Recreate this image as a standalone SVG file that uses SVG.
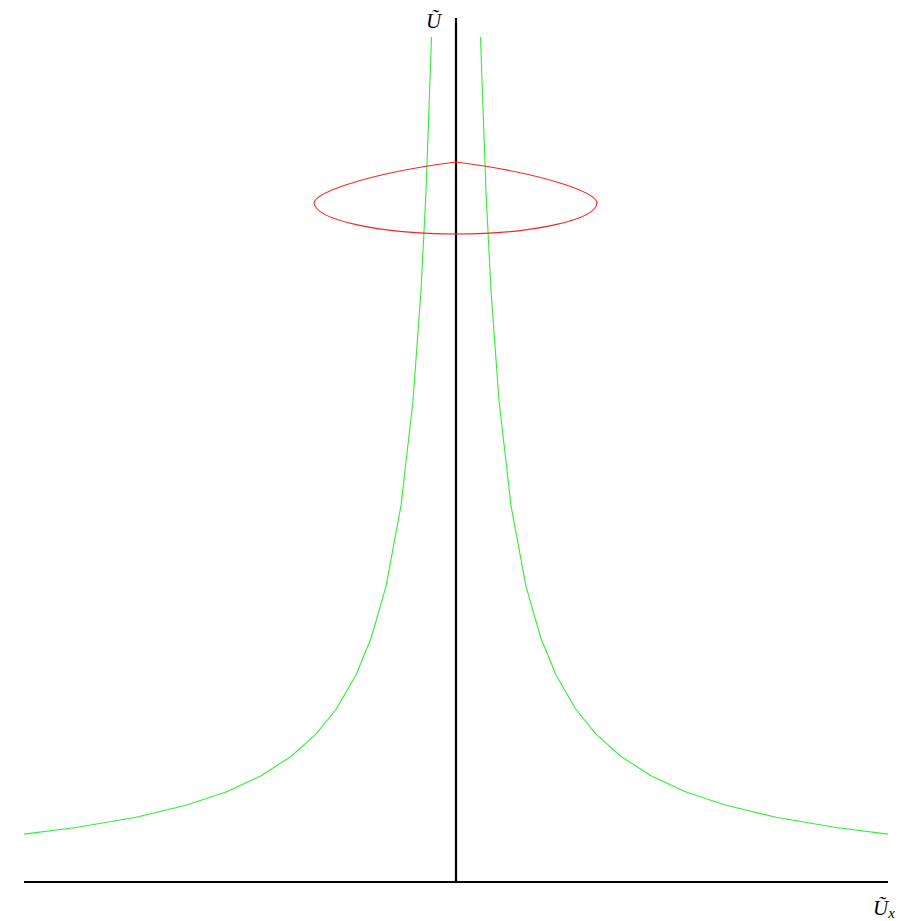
<svg xmlns="http://www.w3.org/2000/svg" width="923" height="921" viewBox="0 0 923 921">
<style>
.axis{stroke:#000;stroke-width:2.2;fill:none}
.curve{stroke:#33ee33;stroke-width:1.1;fill:none;stroke-linejoin:round}
.ring{stroke:#ff2020;stroke-width:1.1;fill:none}
.lbl{font-family:"Liberation Serif","DejaVu Serif",serif;font-style:italic;fill:#000}
</style>
<rect width="923" height="921" fill="#fff"/>
<g id="axes">
<line class="axis" x1="456" y1="18" x2="456" y2="883"/>
<line class="axis" x1="24" y1="882" x2="888" y2="882"/>
</g>
<g id="curve-left">
<polyline class="curve" points="431.5,37 426,192 421,290.6 413,400.6 401,505.6 386,586.3 371,638.5 356,675 336,709.5 316,734.1 291,756.5 261,775.8 226,792 186,805.3 136,817.3 76,827.5 24,834.1"/>
</g>
<g id="curve-right">
<polyline class="curve" points="480.5,37 486,192 491,290.6 499,400.6 511,505.6 526,586.3 541,638.5 556,675 576,709.5 596,734.1 621,756.5 651,775.8 686,792 726,805.3 776,817.3 836,827.5 888,834.1"/>
</g>
<g id="loop">
<path class="ring" d="M314,203 C316,192 370,173 456,162 C542,173 596,192 597,203 C596,220 532,234 456,234 C380,234 316,220 314,203 Z"/>
</g>
<g id="label-U">
<text class="lbl" x="426" y="28" font-size="21">Ũ</text>
</g>
<g id="label-Ux">
<text class="lbl" x="873" y="915" font-size="21">Ũ<tspan font-size="15" dy="3">x</tspan></text>
</g>
</svg>
